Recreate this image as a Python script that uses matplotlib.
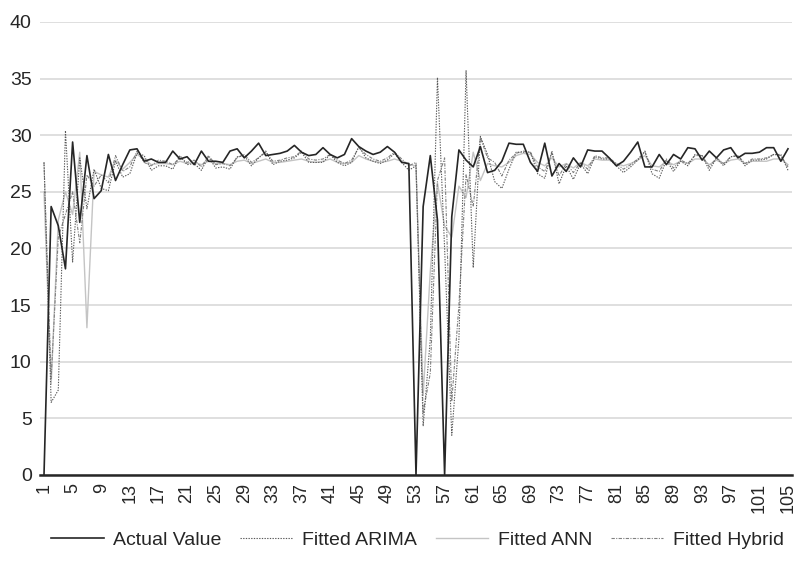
import numpy as np
import matplotlib
matplotlib.use("Agg")
from matplotlib import pyplot as plt

plt.rcParams["font.family"] = ["Liberation Sans", "DejaVu Sans"]

periods = list(range(1, 106))

actual = [
    0.0, 23.7, 22.0, 18.2, 29.4, 22.3, 28.2, 24.4, 25.1, 28.3,
    26.0, 27.4, 28.7, 28.8, 27.7, 27.9, 27.6, 27.6, 28.6, 27.9,
    28.1, 27.4, 28.6, 27.7, 27.7, 27.6, 28.6, 28.8, 28.0, 28.6,
    29.3, 28.2, 28.3, 28.4, 28.6, 29.1, 28.5, 28.2, 28.3, 28.9,
    28.3, 28.0, 28.3, 29.7, 29.0, 28.6, 28.3, 28.5, 29.0, 28.5,
    27.6, 27.5, 0.0, 23.7, 28.2, 22.5, 0.0, 22.8, 28.7, 27.8,
    27.2, 29.0, 26.7, 26.9, 27.7, 29.3, 29.2, 29.2, 27.6, 26.8,
    29.3, 26.4, 27.5, 26.8, 28.0, 27.2, 28.7, 28.6, 28.6, 28.0,
    27.3, 27.7, 28.5, 29.4, 27.2, 27.2, 28.3, 27.4, 28.3, 27.9,
    28.9, 28.8, 27.8, 28.6, 28.0, 28.7, 28.9, 28.0, 28.4, 28.4,
    28.5, 28.9, 28.9, 27.7, 28.8,
]

fitted_arima = [
    27.6, 6.4, 7.5, 30.4, 18.8, 28.0, 23.5, 27.0, 25.3, 25.1,
    27.7, 26.3, 26.6, 28.4, 28.2, 26.9, 27.3, 27.3, 27.0, 28.2,
    27.4, 27.5, 26.9, 28.1, 27.1, 27.2, 27.0, 28.1, 28.2, 27.3,
    28.0, 28.6, 27.4, 27.7, 27.8, 28.0, 28.5, 27.6, 27.6, 27.6,
    28.3, 27.6, 27.3, 27.6, 29.0, 28.0, 27.7, 27.5, 27.8, 28.4,
    27.6, 26.9, 27.3, 4.3, 12.0, 35.1, 20.0, 3.5, 12.0, 35.7,
    18.3, 29.9, 28.3, 25.9, 25.3, 27.0, 28.5, 28.5, 28.5, 26.6,
    26.2, 28.6, 25.7, 27.3, 26.1, 27.5, 26.6, 28.1, 27.9, 27.9,
    27.3, 26.7, 27.2, 27.8, 28.6, 26.6, 26.2, 27.8, 26.8, 27.7,
    27.3, 28.3, 28.2, 26.9, 28.0, 27.3, 28.1, 28.2, 27.3, 27.8,
    27.8, 27.9, 28.3, 28.3, 26.9,
]

fitted_ann = [
    25.0, 8.0, 22.5, 25.0, 23.0, 28.5, 13.0, 26.8, 26.5, 26.3,
    27.8, 27.0, 27.6, 28.3, 27.9, 27.4, 27.5, 27.5, 27.4, 27.7,
    27.5, 27.6, 27.4, 27.7, 27.5, 27.5, 27.4, 27.7, 27.8, 27.5,
    27.7, 27.9, 27.6, 27.6, 27.7, 27.8, 27.9, 27.7, 27.6, 27.7,
    27.9, 27.6, 27.5, 27.6, 28.2, 27.9, 27.7, 27.6, 27.7, 27.9,
    27.7, 27.4, 27.3, 7.0, 18.0, 25.8, 22.0, 21.0, 25.5, 24.5,
    28.5, 26.0, 27.5, 27.3, 27.2, 27.6, 28.2, 28.4, 28.3, 27.6,
    27.3, 28.0, 27.2, 27.5, 27.1, 27.6, 27.3, 27.9, 27.8, 27.8,
    27.5, 27.3, 27.5, 27.8, 28.2, 27.3, 27.2, 27.7, 27.4, 27.7,
    27.5, 27.9, 27.9, 27.4, 27.8, 27.5, 27.8, 27.9, 27.5, 27.7,
    27.7, 27.7, 27.9, 27.9, 27.4,
]

fitted_hybrid = [
    27.6, 8.5, 21.0, 23.0, 25.0, 20.5, 26.5, 25.5, 26.5, 25.8,
    28.2, 26.8, 27.2, 28.6, 27.6, 27.3, 27.8, 27.7, 27.4, 28.0,
    27.6, 27.8, 27.2, 28.2, 27.4, 27.5, 27.3, 28.0, 28.3, 27.6,
    28.0, 28.5, 27.7, 27.8, 28.0, 28.1, 28.6, 27.9, 27.8, 27.9,
    28.3, 27.8, 27.5, 27.8, 28.9, 28.3, 27.9, 27.7, 28.0, 28.5,
    27.9, 27.3, 27.6, 5.5, 9.0, 26.0, 28.0, 6.5, 15.0, 26.5,
    23.7, 29.8, 28.0, 27.6, 26.4, 27.8, 28.4, 28.6, 28.5, 27.2,
    26.8, 28.4, 26.4, 27.5, 26.7, 27.6, 27.0, 28.2, 28.0, 28.0,
    27.5, 27.0, 27.4, 27.9, 28.5, 27.0, 26.8, 27.9, 27.1, 27.8,
    27.5, 28.2, 28.2, 27.2, 28.0, 27.5, 28.1, 28.2, 27.5, 27.9,
    27.9, 28.0, 28.3, 28.2, 27.2,
]

fig = plt.figure(figsize=(8.03, 5.64), dpi=100)
ax = fig.add_axes([0.0498, 0.158, 0.9365, 0.803])

ax.plot(periods, actual, color="#262626", lw=1.2, label="Actual Value", zorder=5)
ax.plot(periods, fitted_arima, color="#595959", lw=0.8, linestyle=(0, (1.2, 1.2)),
        label="Fitted ARIMA", zorder=4)
ax.plot(periods, fitted_ann, color="#c4c4c4", lw=1.0, label="Fitted ANN", zorder=3)
ax.plot(periods, fitted_hybrid, color="#808080", lw=0.8, linestyle=(0, (3, 1.2, 1, 1.2)),
        label="Fitted Hybrid", zorder=3)

ax.set_xlim(0.44, 105.56)
ax.set_ylim(0, 40)
ax.set_yticks(np.arange(0, 41, 5))
ax.set_xticks(periods[::4])
ax.set_xticklabels([str(p) for p in periods[::4]], rotation=90, fontsize=13, color="#262626")
ax.tick_params(axis="y", labelsize=14, colors="#262626")
ax.tick_params(length=0, pad=6)
ax.grid(axis="y", color="#d9d9d9", lw=1.2)
ax.set_axisbelow(True)
for side in ["top", "right", "left"]:
    ax.spines[side].set_visible(False)
ax.spines["bottom"].set_color("#262626")
ax.spines["bottom"].set_linewidth(1.8)

fig.legend(loc="center", bbox_to_anchor=(0.52, 0.043), ncol=4, frameon=False,
           fontsize=14, handlelength=2.7, columnspacing=0.95, handletextpad=0.5,
           labelcolor="#262626")

fig.savefig("out.png", dpi=100)
